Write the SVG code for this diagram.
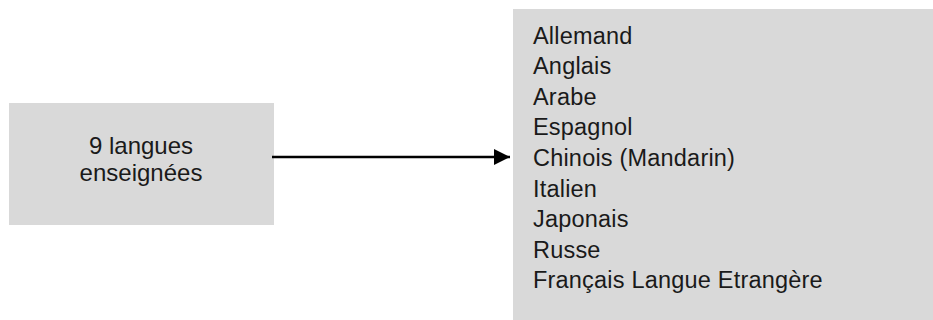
<svg xmlns="http://www.w3.org/2000/svg" width="933" height="320" viewBox="0 0 933 320">
<style>
.box{fill:#d9d9d9;stroke:none}
.t{font-family:"Liberation Sans",Arial,sans-serif;fill:#1a1a1a}
.l{font-size:24px;text-anchor:middle}
.r{font-size:23.5px;letter-spacing:0.2px}
.edge{stroke:#000;stroke-width:2.6;fill:none}
</style>
<defs>
<marker id="ah" markerUnits="userSpaceOnUse" markerWidth="18" markerHeight="18" refX="16" refY="8" orient="auto">
<path d="M0,0 L16,8 L0,16 Z" fill="#000"/>
</marker>
</defs>
<g id="node-source">
<rect class="box" x="9" y="103" width="265" height="122"/>
<text class="t l" x="141" y="153.5">9 langues</text>
<text class="t l" x="141" y="181">enseignées</text>
</g>
<g id="node-list">
<rect class="box" x="513" y="9" width="420" height="311"/>
<text class="t r" x="533" y="43.5">Allemand</text>
<text class="t r" x="533" y="74.1">Anglais</text>
<text class="t r" x="533" y="104.7">Arabe</text>
<text class="t r" x="533" y="135.3">Espagnol</text>
<text class="t r" x="533" y="165.9">Chinois (Mandarin)</text>
<text class="t r" x="533" y="196.5">Italien</text>
<text class="t r" x="533" y="227.1">Japonais</text>
<text class="t r" x="533" y="257.7">Russe</text>
<text class="t r" x="533" y="288.3">Français Langue Etrangère</text>
</g>
<g id="connectors">
<line class="edge" x1="272" y1="157" x2="510" y2="157" marker-end="url(#ah)"/>
</g>
</svg>
